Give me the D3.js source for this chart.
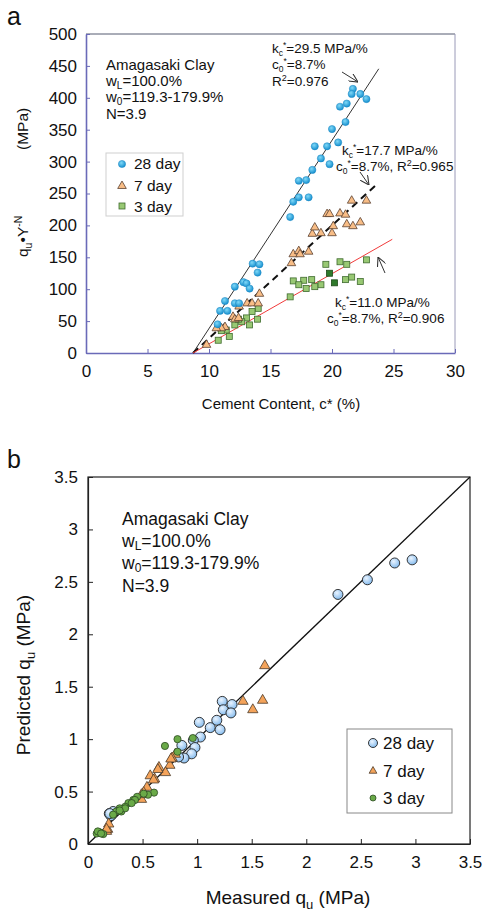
<!DOCTYPE html>
<html>
<head>
<meta charset="utf-8">
<script src="https://cdn.jsdelivr.net/npm/d3@7"></script>
<style>
  html, body { margin: 0; padding: 0; background: #fff; }
  svg { display: block; font-family: "Liberation Sans", Arial, sans-serif; }
</style>
</head>
<body>
<svg id="chart" width="484" height="914"></svg>
<script>
// ---------- Panel a: normalised strength vs cement content ----------
const xTicksA = [0, 5, 10, 15, 20, 25, 30];
const yTicksA = [0, 50, 100, 150, 200, 250, 300, 350, 400, 450, 500];

// [cement content c* (%), qu·Y^-N (MPa)]
const day28A = [
  [21.7, 414], [22.3, 406], [21.6, 406], [22.8, 398], [21.2, 391], [20.65, 386],
  [21.1, 362], [20.0, 351], [20.5, 330], [19.6, 324], [18.6, 324], [19.1, 305],
  [19.8, 296], [18.4, 287], [17.9, 271], [17.3, 270], [17.3, 244], [18.1, 244],
  [16.85, 237], [16.6, 213],
  [13.55, 140], [14.1, 139], [13.95, 126], [12.8, 111], [13.05, 109], [13.3, 101],
  [12.1, 104], [11.3, 81.5], [12.1, 78], [12.45, 78], [10.9, 66], [11.5, 66], [10.7, 45]
];
const day7A = [
  [22.8, 240], [21.6, 240], [19.6, 219], [19.8, 219], [20.65, 220], [21.1, 218],
  [21.2, 203], [21.7, 200], [22.3, 206], [20.1, 200], [18.4, 188], [18.6, 198],
  [19.1, 189], [20.0, 189], [16.85, 156], [17.3, 161], [17.4, 156], [18.1, 160],
  [16.7, 142],
  [14.1, 94], [13.1, 79], [13.5, 79], [14.0, 79], [12.45, 74], [11.95, 58],
  [12.1, 54], [12.4, 56], [11.3, 42], [11.0, 40], [10.6, 40], [9.8, 14]
];
const day3A = [
  [22.8, 146], [20.65, 143], [21.2, 139], [19.5, 139],
  [21.6, 119], [21.1, 115], [22.3, 112], [18.35, 115], [19.1, 107], [18.6, 104],
  [17.7, 114], [16.85, 113], [17.3, 107], [17.9, 101], [16.6, 88],
  [14.0, 70], [13.5, 65], [13.05, 55], [13.95, 53], [13.3, 44], [12.1, 44],
  [12.66, 49], [12.4, 53], [11.4, 36], [11.0, 35], [11.65, 26], [10.75, 20]
];
// two 3-day specimens drawn in a darker green
const day3ADark = [[19.8, 125], [20.2, 110]];

// fitted lines: qu·Y^-N = kc* (c* − c0*)
const fitSlopes = [29.5, 17.7, 11.0];
const fitC0 = 8.7;
const fitEnds = [23.8, 23.6, 24.9];

// ---------- Panel b: predicted vs measured qu ----------
const ticksB = [0, 0.5, 1, 1.5, 2, 2.5, 3, 3.5];
const tickLabelsB = ["0", "0.5", "1", "1.5", "2", "2.5", "3", "3.5"];

// [measured qu (MPa), predicted qu (MPa)]
const day28B = [
  [2.29, 2.38], [2.56, 2.52], [2.81, 2.68], [2.97, 2.71],
  [1.23, 1.36], [1.32, 1.33], [1.24, 1.28], [1.31, 1.25], [1.18, 1.18],
  [1.02, 1.16], [1.03, 1.02], [1.12, 1.11], [1.21, 1.09], [0.965, 0.99],
  [0.98, 0.92], [0.86, 0.94], [0.95, 0.86], [0.88, 0.82], [0.83, 0.83],
  [0.195, 0.29], [0.23, 0.31], [0.21, 0.27], [0.2, 0.29]
];
const day7B = [
  [1.62, 1.71], [1.42, 1.37], [1.51, 1.29], [1.60, 1.38],
  [0.80, 0.865], [0.77, 0.83], [0.75, 0.76], [0.65, 0.74], [0.71, 0.69],
  [0.57, 0.66], [0.61, 0.63], [0.54, 0.55], [0.51, 0.50], [0.49, 0.435],
  [0.64, 0.72], [0.6, 0.62], [0.76, 0.82], [0.49, 0.48],
  [0.18, 0.15], [0.17, 0.13], [0.19, 0.20], [0.17, 0.15]
];
const day3B = [
  [0.705, 0.935], [0.82, 1.0], [0.96, 1.01], [0.82, 0.88],
  [0.605, 0.49], [0.55, 0.47], [0.51, 0.48], [0.45, 0.45], [0.415, 0.42],
  [0.37, 0.39], [0.34, 0.355], [0.29, 0.34], [0.26, 0.31], [0.23, 0.28],
  [0.43, 0.42], [0.305, 0.31], [0.4, 0.39], [0.34, 0.34], [0.29, 0.32],
  [0.11, 0.11], [0.08, 0.10], [0.14, 0.095], [0.09, 0.12], [0.12, 0.10]
];

const svg = d3.select("#chart");
const defs = svg.append("defs");

function radial(id, inner, outer) {
  const g = defs.append("radialGradient").attr("id", id)
    .attr("cx", "40%").attr("cy", "35%").attr("r", "65%");
  g.append("stop").attr("offset", "0%").attr("stop-color", inner);
  g.append("stop").attr("offset", "100%").attr("stop-color", outer);
}
radial("gCyan", "#7fd8f7", "#1690cf");
radial("gBlue", "#eaf4ff", "#86bcee");

defs.append("marker").attr("id", "arrow")
  .attr("viewBox", "0 0 10 10").attr("refX", 10).attr("refY", 5)
  .attr("markerWidth", 9).attr("markerHeight", 9).attr("orient", "auto")
  .append("path").attr("d", "M0,0 L10,5 L0,10").attr("fill", "none")
  .attr("stroke", "#333").attr("stroke-width", 1.2);

const tri = d3.symbol().type(d3.symbolTriangle);

// ================= Panel a =================
const xA = d3.scaleLinear().domain([0, 30]).range([86, 455]);
const yA = d3.scaleLinear().domain([0, 500]).range([353, 34]);
const gA = svg.append("g");

svg.append("text").attr("x", 7).attr("y", 25).attr("font-size", 25).attr("fill", "#111").text("a");

// frame: top and right
gA.append("line").attr("x1", xA(0)).attr("x2", xA(30)).attr("y1", yA(500)).attr("y2", yA(500))
  .attr("stroke", "#555a70").attr("stroke-width", 1);
gA.append("line").attr("x1", xA(30)).attr("x2", xA(30)).attr("y1", yA(500)).attr("y2", yA(0))
  .attr("stroke", "#9a9ab8").attr("stroke-width", 1);

const axisColA = "#6a6ab8";
const xAxisA = gA.append("g").attr("transform", `translate(0,${yA(0)})`)
  .call(d3.axisBottom(xA).tickValues(xTicksA).tickSizeInner(-4).tickSizeOuter(0).tickPadding(12));
const yAxisA = gA.append("g").attr("transform", `translate(${xA(0)},0)`)
  .call(d3.axisLeft(yA).tickValues(yTicksA).tickSizeInner(-4).tickSizeOuter(0).tickPadding(9));
[xAxisA, yAxisA].forEach(ax => {
  ax.select(".domain").attr("stroke", axisColA).attr("stroke-width", 1.6);
  ax.selectAll(".tick line").attr("stroke", axisColA);
  ax.selectAll(".tick text").attr("font-size", 17).attr("fill", "#111")
    .attr("font-family", "Liberation Sans, Arial, sans-serif");
});

// axis titles
gA.append("text").attr("x", 281).attr("y", 409).attr("text-anchor", "middle")
  .attr("font-size", 15).attr("fill", "#111").text("Cement Content, c*  (%)");
const yTitleA = gA.append("text").attr("transform", "translate(28,257) rotate(-90)")
  .attr("text-anchor", "start").attr("font-size", 15.5).attr("fill", "#111");
yTitleA.append("tspan").text("q");
yTitleA.append("tspan").attr("font-size", 10.5).attr("dy", 4).text("u");
yTitleA.append("tspan").attr("dy", -4).text("\u2022Y");
yTitleA.append("tspan").attr("font-size", 10.5).attr("dy", -6).text("-N");
gA.append("text").attr("transform", "translate(28,150) rotate(-90)")
  .attr("text-anchor", "start").attr("font-size", 15.5).attr("fill", "#111").text("(MPa)");

// fitted lines
const fitStyles = [
  { stroke: "#333", width: 1, dash: null },
  { stroke: "#111", width: 2, dash: "7,5" },
  { stroke: "#f03a3a", width: 1, dash: null }
];
fitSlopes.forEach((k, i) => {
  gA.append("line")
    .attr("x1", xA(fitC0)).attr("y1", yA(0))
    .attr("x2", xA(fitEnds[i])).attr("y2", yA(k * (fitEnds[i] - fitC0)))
    .attr("stroke", fitStyles[i].stroke).attr("stroke-width", fitStyles[i].width)
    .attr("stroke-dasharray", fitStyles[i].dash);
});

// data marks
gA.append("g").selectAll("rect").data(day3A).join("rect")
  .attr("x", d => xA(d[0]) - 3).attr("y", d => yA(d[1]) - 3)
  .attr("width", 6).attr("height", 6)
  .attr("fill", "#98c873").attr("stroke", "#3f6b2e").attr("stroke-width", 0.8);
gA.append("g").selectAll("rect").data(day3ADark).join("rect")
  .attr("x", d => xA(d[0]) - 3).attr("y", d => yA(d[1]) - 3)
  .attr("width", 6).attr("height", 6)
  .attr("fill", "#2f7a2c").attr("stroke", "#1f4a1a").attr("stroke-width", 0.8);
gA.append("g").selectAll("path").data(day7A).join("path")
  .attr("d", tri.size(32)())
  .attr("transform", d => `translate(${xA(d[0])},${yA(d[1]) + 0.8})`)
  .attr("fill", "#f8bd86").attr("stroke", "#5a4030").attr("stroke-width", 0.8);
gA.append("g").selectAll("circle").data(day28A).join("circle")
  .attr("cx", d => xA(d[0])).attr("cy", d => yA(d[1])).attr("r", 3.6)
  .attr("fill", "url(#gCyan)").attr("stroke", "#1a86c2").attr("stroke-width", 0.5);

// annotation: soil properties
const infoA = gA.append("g").attr("font-size", 15).attr("fill", "#111");
function subLine(g, x, y, base, sub, rest, subSize, shift) {
  const t = g.append("text").attr("x", x).attr("y", y);
  t.append("tspan").text(base);
  t.append("tspan").attr("font-size", subSize).attr("dy", shift).text(sub);
  t.append("tspan").attr("dy", -shift).text(rest);
  return t;
}
infoA.append("text").attr("x", 106).attr("y", 70).text("Amagasaki Clay");
subLine(infoA, 106, 86, "w", "L", "=100.0%", 10, 2.5);
subLine(infoA, 106, 102, "w", "0", "=119.3-179.9%", 10, 2.5);
infoA.append("text").attr("x", 106).attr("y", 119).text("N=3.9");

// legend a
const legA = gA.append("g");
legA.append("rect").attr("x", 106).attr("y", 153).attr("width", 77).attr("height", 63)
  .attr("fill", "#fff").attr("stroke", "#cfcfcf").attr("stroke-width", 1);
legA.append("circle").attr("cx", 122).attr("cy", 164).attr("r", 3.6)
  .attr("fill", "url(#gCyan)").attr("stroke", "#1a86c2").attr("stroke-width", 0.5);
legA.append("path").attr("d", tri.size(32)()).attr("transform", "translate(122,186)")
  .attr("fill", "#f8bd86").attr("stroke", "#5a4030").attr("stroke-width", 0.8);
legA.append("rect").attr("x", 119).attr("y", 203).attr("width", 6).attr("height", 6)
  .attr("fill", "#98c873").attr("stroke", "#3f6b2e").attr("stroke-width", 0.8);
[["28 day", 169], ["7 day", 191], ["3 day", 212]].forEach(([t, y]) => {
  legA.append("text").attr("x", 134).attr("y", y).attr("font-size", 15.5).attr("fill", "#111").text(t);
});

// fit annotations
function kLine(g, x, y, kval) {
  const t = g.append("text").attr("x", x).attr("y", y).attr("font-size", 13.5).attr("fill", "#111");
  t.append("tspan").text("k");
  t.append("tspan").attr("font-size", 8.5).attr("dy", 2.5).text("c");
  t.append("tspan").attr("font-size", 8.5).attr("dy", -7.5).text("*");
  t.append("tspan").attr("dy", 5).text("=" + kval + " MPa/%");
}
function cLine(g, x, y, tail) {
  const t = g.append("text").attr("x", x).attr("y", y).attr("font-size", 13.5).attr("fill", "#111");
  t.append("tspan").text("c");
  t.append("tspan").attr("font-size", 8.5).attr("dy", 2.5).text("0");
  t.append("tspan").attr("font-size", 8.5).attr("dy", -7.5).text("*");
  t.append("tspan").attr("dy", 5).text("=8.7%" + (tail || ""));
  return t;
}
function r2(t, val) {
  t.append("tspan").text("R");
  t.append("tspan").attr("font-size", 9).attr("dy", -5).text("2");
  t.append("tspan").attr("dy", 5).text("=" + val);
}
const annA = gA.append("g");
kLine(annA, 272, 53, "29.5");
cLine(annA, 272, 69);
r2(annA.append("text").attr("x", 272).attr("y", 86).attr("font-size", 13.5).attr("fill", "#111"), "0.976");

kLine(annA, 342, 155, "17.7");
r2(cLine(annA, 336, 171, ", "), "0.965");

kLine(annA, 335, 307, "11.0");
r2(cLine(annA, 327, 323, ", "), "0.906");

// arrows
[[342, 72, 358, 82], [360, 172, 369, 185], [385, 273, 378, 257]].forEach(([x1, y1, x2, y2]) => {
  annA.append("line").attr("x1", x1).attr("y1", y1).attr("x2", x2).attr("y2", y2)
    .attr("stroke", "#333").attr("stroke-width", 1).attr("marker-end", "url(#arrow)");
});

// ================= Panel b =================
const xB = d3.scaleLinear().domain([0, 3.5]).range([88, 470]);
const yB = d3.scaleLinear().domain([0, 3.5]).range([844, 477]);
const gB = svg.append("g");

svg.append("text").attr("x", 7).attr("y", 468).attr("font-size", 25).attr("fill", "#111").text("b");

gB.append("rect").attr("x", xB(0)).attr("y", yB(3.5))
  .attr("width", xB(3.5) - xB(0)).attr("height", yB(0) - yB(3.5))
  .attr("fill", "none").attr("stroke", "#222").attr("stroke-width", 1.2);

const xAxisB = gB.append("g").attr("transform", `translate(0,${yB(0)})`)
  .call(d3.axisBottom(xB).tickValues(ticksB).tickFormat((d, i) => tickLabelsB[i])
    .tickSizeInner(-5).tickSizeOuter(0).tickPadding(12));
const yAxisB = gB.append("g").attr("transform", `translate(${xB(0)},0)`)
  .call(d3.axisLeft(yB).tickValues(ticksB).tickFormat((d, i) => tickLabelsB[i])
    .tickSizeInner(-5).tickSizeOuter(0).tickPadding(10));
[xAxisB, yAxisB].forEach(ax => {
  ax.select(".domain").attr("stroke", "#222").attr("stroke-width", 1.2);
  ax.selectAll(".tick line").attr("stroke", "#222");
  ax.selectAll(".tick text").attr("font-size", 17).attr("fill", "#111")
    .attr("font-family", "Liberation Sans, Arial, sans-serif");
});

// axis titles
const xTitleB = gB.append("text").attr("x", 288).attr("y", 904).attr("text-anchor", "middle")
  .attr("font-size", 19).attr("fill", "#111");
xTitleB.append("tspan").text("Measured q");
xTitleB.append("tspan").attr("font-size", 13).attr("dy", 5).text("u");
xTitleB.append("tspan").attr("dy", -5).text(" (MPa)");
const yTitleB = gB.append("text").attr("transform", "translate(30,675) rotate(-90)")
  .attr("text-anchor", "middle").attr("font-size", 19).attr("fill", "#111");
yTitleB.append("tspan").text("Predicted q");
yTitleB.append("tspan").attr("font-size", 13).attr("dy", 5).text("u");
yTitleB.append("tspan").attr("dy", -5).text(" (MPa)");

// 1:1 line
gB.append("line").attr("x1", xB(0)).attr("y1", yB(0)).attr("x2", xB(3.5)).attr("y2", yB(3.5))
  .attr("stroke", "#111").attr("stroke-width", 1.3);

// data marks
gB.append("g").selectAll("circle").data(day28B).join("circle")
  .attr("cx", d => xB(d[0])).attr("cy", d => yB(d[1])).attr("r", 5)
  .attr("fill", "url(#gBlue)").attr("stroke", "#222").attr("stroke-width", 0.9);
gB.append("g").selectAll("path").data(day7B).join("path")
  .attr("d", tri.size(46)())
  .attr("transform", d => `translate(${xB(d[0])},${yB(d[1]) + 1})`)
  .attr("fill", "#f4a35a").attr("stroke", "#4a3a2a").attr("stroke-width", 0.8);
gB.append("g").selectAll("circle").data(day3B).join("circle")
  .attr("cx", d => xB(d[0])).attr("cy", d => yB(d[1])).attr("r", 3.6)
  .attr("fill", "#6aaa48").attr("stroke", "#2c4a22").attr("stroke-width", 0.8);

// annotation b
const infoB = gB.append("g").attr("font-size", 17.5).attr("fill", "#111");
infoB.append("text").attr("x", 122).attr("y", 525).text("Amagasaki Clay");
subLine(infoB, 122, 547, "w", "L", "=100.0%", 12, 3);
subLine(infoB, 122, 569, "w", "0", "=119.3-179.9%", 12, 3);
infoB.append("text").attr("x", 122).attr("y", 592).text("N=3.9");

// legend b
const legB = gB.append("g");
legB.append("rect").attr("x", 347).attr("y", 729).attr("width", 105).attr("height", 84)
  .attr("fill", "#fff").attr("stroke", "#888").attr("stroke-width", 1);
legB.append("circle").attr("cx", 373).attr("cy", 743).attr("r", 4.5)
  .attr("fill", "url(#gBlue)").attr("stroke", "#222").attr("stroke-width", 0.9);
legB.append("path").attr("d", tri.size(26)()).attr("transform", "translate(373,771)")
  .attr("fill", "#f4a35a").attr("stroke", "#4a3a2a").attr("stroke-width", 0.8);
legB.append("circle").attr("cx", 373).attr("cy", 798).attr("r", 3)
  .attr("fill", "#6aaa48").attr("stroke", "#2c4a22").attr("stroke-width", 0.8);
[["28 day", 749], ["7 day", 777], ["3 day", 804]].forEach(([t, y]) => {
  legB.append("text").attr("x", 383).attr("y", y).attr("font-size", 17).attr("fill", "#111").text(t);
});
</script>
</body>
</html>
